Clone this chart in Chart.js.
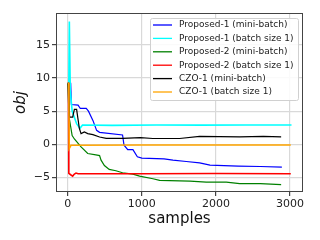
<!DOCTYPE html>
<html>
<head>
<meta charset="utf-8">
<script src="https://cdn.jsdelivr.net/npm/chart.js@4.4.1/dist/chart.umd.min.js"></script>
<style>html,body{margin:0;padding:0;background:#fff;}</style>
</head>
<body>
<canvas id="myChart" width="320" height="240"></canvas>
<script>
// tick values
const xTicks = [0, 1000, 2000, 3000];
const yTicks = [-5, 0, 5, 10, 15];

// series names
const labels = [
  "Proposed-1 (mini-batch)",
  "Proposed-1 (batch size 1)",
  "Proposed-2 (mini-batch)",
  "Proposed-2 (batch size 1)",
  "CZO-1 (mini-batch)",
  "CZO-1 (batch size 1)"
];

// Proposed-1 (mini-batch)
const p1MiniX = [0, 40, 50, 140, 170, 250, 280, 340, 390, 430, 740, 760, 810, 880, 940, 1000, 1300, 1420, 1600, 1780, 1920, 2300, 2600, 2890];
const p1MiniY = [9.2, 9.2, 6.0, 5.9, 5.4, 5.4, 5.0, 3.6, 2.1, 1.8, 1.4, -0.15, -0.8, -0.8, -1.9, -2.1, -2.2, -2.4, -2.6, -2.8, -3.15, -3.3, -3.35, -3.45];
// Proposed-1 (batch size 1)
const p1OneX = [0, 15, 22, 35, 60, 120, 165, 200, 600, 1200, 1800, 2400, 3020];
const p1OneY = [9.2, 9.2, 18.5, 8.0, 5.0, 3.1, 2.4, 2.9, 2.85, 2.9, 2.88, 2.9, 2.9];
// Proposed-2 (mini-batch)
const p2MiniX = [0, 20, 60, 90, 180, 270, 380, 430, 450, 495, 560, 650, 740, 880, 970, 1150, 1240, 1650, 1870, 2140, 2320, 2600, 2880];
const p2MiniY = [9.2, 4.0, 1.3, 0.8, -0.4, -1.4, -1.6, -1.7, -2.4, -3.2, -3.8, -4.0, -4.3, -4.5, -4.8, -5.2, -5.45, -5.55, -5.7, -5.7, -5.95, -5.95, -6.1];
// Proposed-2 (batch size 1)
const p2OneX = [0, 10, 15, 40, 67, 90, 112, 140, 1000, 2000, 3010];
const p2OneY = [9.2, 9.2, -4.4, -4.6, -4.8, -4.5, -4.35, -4.45, -4.45, -4.4, -4.45];
// CZO-1 (mini-batch)
const czoMiniX = [0, 12, 25, 67, 90, 120, 157, 180, 225, 270, 340, 430, 520, 740, 980, 1150, 1510, 1780, 2320, 2640, 2880];
const czoMiniY = [9.2, 9.2, 4.1, 4.1, 5.25, 5.25, 2.4, 1.6, 1.85, 1.6, 1.45, 1.1, 0.9, 0.9, 1.0, 0.87, 0.87, 1.2, 1.1, 1.2, 1.1];
// CZO-1 (batch size 1)
const czoOneX = [0, 15, 20, 44, 1000, 2000, 3010];
const czoOneY = [9.2, 9.2, -0.65, -0.15, -0.1, -0.1, -0.1];

const colors = ["#0000ff", "#00ffff", "#008000", "#ff0000", "#000000", "#ffa500"];
const xs = [p1MiniX, p1OneX, p2MiniX, p2OneX, czoMiniX, czoOneX];
const ys = [p1MiniY, p1OneY, p2MiniY, p2OneY, czoMiniY, czoOneY];

Chart.defaults.font.family = "DejaVu Sans";
Chart.defaults.color = "#222";

const datasets = labels.map((lab, i) => ({
  label: lab,
  data: xs[i].map((x, j) => ({x: x, y: ys[i][j]})),
  borderColor: colors[i],
  backgroundColor: colors[i],
  borderWidth: i % 2 ? 1.6 : 1.2,
  pointRadius: 0,
  tension: 0,
  order: labels.length - i
}));

// frame + legend
const frameLegend = {
  id: "frameLegend",
  afterDraw(chart) {
    const c = chart.ctx;
    const a = chart.chartArea;
    c.save();
    c.strokeStyle = "#444";
    c.lineWidth = 1;
    c.strokeRect(a.left + 0.5, a.top + 0.5, a.right - a.left - 1, a.bottom - a.top - 1);

    const bx = a.right - 153, by = a.top + 5, bw = 148, bh = 82;
    c.fillStyle = "rgba(255,255,255,0.85)";
    c.strokeStyle = "#d0d0d0";
    c.beginPath();
    c.roundRect(bx + 0.5, by + 0.5, bw, bh, 2);
    c.fill();
    c.stroke();

    c.font = "9px 'DejaVu Sans'";
    c.textBaseline = "middle";
    c.textAlign = "left";
    labels.forEach((lab, i) => {
      const y = by + 7 + i * 13.4;
      c.strokeStyle = colors[i];
      c.lineWidth = 1.3;
      c.beginPath();
      c.moveTo(bx + 3, y);
      c.lineTo(bx + 22, y);
      c.stroke();
      c.fillStyle = "#222";
      c.fillText(lab, bx + 29, y);
    });
    c.restore();
  }
};

new Chart(document.getElementById("myChart"), {
  type: "line",
  data: { datasets: datasets },
  options: {
    responsive: false,
    animation: false,
    layout: { padding: { top: 13, right: 17, left: 0, bottom: 0 } },
    plugins: { legend: { display: false }, tooltip: { enabled: false } },
    scales: {
      x: {
        type: "linear",
        min: -158,
        max: 3175,
        afterBuildTicks: s => { s.ticks = xTicks.map(v => ({value: v})); },
        afterFit: s => { s.height = 48; },
        grid: { color: "#d9d9d9", lineWidth: 1.2, tickLength: 4, tickColor: "#444" },
        border: { display: false },
        ticks: { font: { size: 11 }, padding: 2, maxRotation: 0, callback: v => String(v) },
        title: { display: true, text: "samples", font: { size: 15 }, padding: { top: 0, bottom: 12 }, color: "#111" }
      },
      y: {
        type: "linear",
        min: -7.2,
        max: 19.8,
        afterBuildTicks: s => { s.ticks = yTicks.map(v => ({value: v})); },
        afterFit: s => { s.width = 56; },
        grid: { color: "#d9d9d9", lineWidth: 1.2, tickLength: 4, tickColor: "#444" },
        border: { display: false },
        ticks: { font: { size: 11 }, padding: 2, callback: v => String(v).replace("-", "\u2212") },
        title: { display: true, text: "obj", font: { size: 15, style: "italic" }, padding: { top: 12, bottom: 0 }, color: "#111" }
      }
    }
  },
  plugins: [frameLegend]
});
</script>
</body>
</html>
